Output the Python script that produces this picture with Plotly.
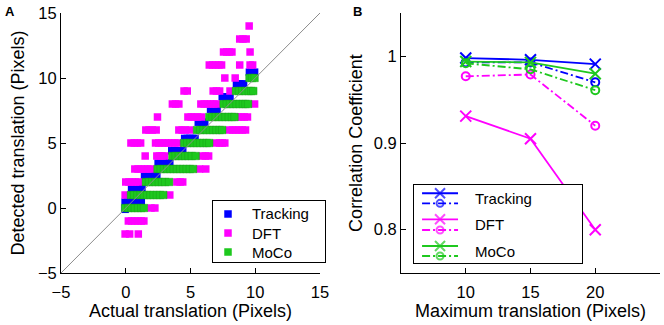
import plotly.graph_objects as go

# ---------------- Panel A data ----------------
trk_levels = [-0.1, 0.45, 1.5, 2.45, 3.45, 4.4, 5.35, 6.6, 7.6, 8.55, 9.55, 10.45]
trk_x = [
    [-0.05],
    [-0.05, 0.15, 0.35, 0.55, 0.75, 0.95, 1.2],
    [0.45, 0.65, 0.85, 1.05, 1.25],
    [1.45, 1.65, 1.85, 2.05, 2.25, 2.4],
    [2.5, 2.7, 2.9, 3.1, 3.3, 3.4],
    [3.55, 3.75, 3.95, 4.15, 4.4],
    [4.55, 4.75, 4.95, 5.15, 5.35],
    [5.6, 5.85, 6.1],
    [6.55, 6.8, 7.05],
    [7.45, 7.75, 8.05],
    [8.55, 8.8, 9.1],
    [9.55, 9.75, 9.95],
]

dft_levels = [14, 13, 12, 11, 10, 9, 8, 7, 6, 5, 4, 3, 2, 1, 0, -1, -2]
dft_x = [
    [9.53],
    [8.8, 9.05, 9.3],
    [7.55, 7.8, 8.0, 8.2, 9.6],
    [6.45, 6.7, 6.95, 7.2, 7.4, 8.8, 9.6, 9.8],
    [7.65, 8.45],
    [4.5, 4.75, 6.75, 7.0, 7.25, 8.05],
    [3.6, 3.85, 4.1, 5.8, 6.05, 6.3, 6.55, 6.8, 7.0, 9.95],
    [2.45, 4.8, 5.05, 5.3, 5.55, 5.85, 8.65, 8.9, 9.15, 9.4],
    [1.55, 1.8, 2.05, 2.35, 4.1, 4.35, 4.6, 4.95, 8.0, 8.25, 8.5, 8.75, 9.0, 9.25],
    [0.4, 0.65, 0.9, 1.15, 2.3, 2.55, 2.8, 3.05, 3.3, 3.55, 3.8, 4.05, 7.0, 7.25, 7.45, 7.65],
    [1.5, 2.4, 2.6, 2.8, 3.0, 5.9, 6.15, 6.4],
    [0.7, 0.95, 1.2, 1.45, 1.7, 1.95, 5.7, 6.18],
    [0.0, 0.25, 0.5, 0.75, 1.0, 3.95, 4.2, 4.4],
    [-0.05, 3.4],
    [1.95, 2.25],
    [0.2, 0.45, 0.7, 0.95, 1.2, 1.4],
    [-0.05, 0.3, 0.97],
]

moco_levels = [0, 1, 2, 3, 4, 5, 6, 7, 8, 9, 10]
moco_x = [
    [-0.05, 0.2, 0.45, 0.7, 0.95, 1.2, 1.4],
    [0.4, 0.65, 0.9, 1.15, 1.4, 1.65, 1.9, 2.15, 2.4, 2.65, 2.9],
    [1.55, 1.8, 2.05, 2.3, 2.55, 2.8, 3.05, 3.35],
    [2.45, 2.7, 2.95, 3.2, 3.45, 3.7, 3.95, 4.2, 4.45, 4.7, 4.95, 5.2],
    [3.6, 3.85, 4.1, 4.35, 4.6, 4.85, 5.1, 5.4],
    [4.5, 4.75, 5.0, 5.25, 5.5, 5.75, 6.0, 6.25, 6.45],
    [5.5, 5.75, 6.0, 6.25, 6.5, 6.75, 7.0, 7.25, 7.45],
    [6.45, 6.7, 6.95, 7.2, 7.45, 7.7, 7.95, 8.2, 8.4],
    [7.55, 7.8, 8.05, 8.3, 8.55, 8.8, 9.05, 9.25, 9.45],
    [8.5, 8.75, 9.0, 9.25, 9.5, 9.7, 9.85],
    [9.55, 9.75, 9.95],
]

axis_a_range = [-5, 15]
axis_a_ticks = [-5, 0, 5, 10, 15]

# ---------------- Panel B data ----------------
max_trans = [10, 15, 20]
trk_solid = [0.998, 0.996, 0.991]
trk_dash = [0.993, 0.993, 0.970]
dft_solid = [0.931, 0.905, 0.800]
dft_dash = [0.977, 0.979, 0.920]
moco_solid = [0.994, 0.993, 0.980]
moco_dash = [0.992, 0.985, 0.961]
b_yticks = [0.8, 0.9, 1.0]
b_yticktext = ["0.8", "0.9", "1"]
b_xticks = [10, 15, 20]

BLUE = "#0000ff"
MAG = "#ff00ff"
GREEN = "#1ec81e"
FONT = "Liberation Sans, Arial, Helvetica, sans-serif"
W, H = 664, 325
MS = 7.5
DASHDOT = "8px,3px,2px,3px"


def flatten(levels, xs):
    fx, fy = [], []
    for lv, row in zip(levels, xs):
        for v in row:
            fx.append(v)
            fy.append(lv)
    return fx, fy


def px_dom_x(a, b):
    return [a / W, b / W]


def px_dom_y(top, bottom):
    return [1 - bottom / H, 1 - top / H]


fig = go.Figure()

tx, ty = flatten(trk_levels, trk_x)
dx, dy = flatten(dft_levels, dft_x)
mx, my = flatten(moco_levels, moco_x)

fig.add_trace(go.Scatter(x=tx, y=ty, mode="markers", name="Tracking", xaxis="x", yaxis="y",
                         marker=dict(symbol="square", size=MS, color=BLUE, line=dict(width=0)),
                         showlegend=False))
fig.add_trace(go.Scatter(x=dx, y=dy, mode="markers", name="DFT", xaxis="x", yaxis="y",
                         marker=dict(symbol="square", size=MS, color=MAG, line=dict(width=0)),
                         showlegend=False))
fig.add_trace(go.Scatter(x=mx, y=my, mode="markers", name="MoCo", xaxis="x", yaxis="y",
                         marker=dict(symbol="square", size=MS, color=GREEN,
                                     line=dict(width=0.4, color="#169a16")),
                         showlegend=False))
fig.add_trace(go.Scatter(x=axis_a_range, y=axis_a_range, mode="lines", xaxis="x", yaxis="y",
                         line=dict(color="#8c8c8c", width=1), showlegend=False, hoverinfo="skip"))

# Panel B lines
series_b = [
    (trk_solid, BLUE, "solid", "x-thin-open", 11, "Tracking"),
    (trk_dash, BLUE, DASHDOT, "circle-open", 8, "Tracking"),
    (dft_solid, MAG, "solid", "x-thin-open", 11, "DFT"),
    (dft_dash, MAG, DASHDOT, "circle-open", 8, "DFT"),
    (moco_solid, GREEN, "solid", "x-thin-open", 11, "MoCo"),
    (moco_dash, GREEN, DASHDOT, "circle-open", 8, "MoCo"),
]
for vals, col, dash, sym, sz, nm in series_b:
    fig.add_trace(go.Scatter(x=max_trans, y=vals, mode="lines+markers", name=nm,
                             xaxis="x2", yaxis="y2", showlegend=False,
                             line=dict(color=col, width=1.8, dash=dash),
                             marker=dict(symbol=sym, size=sz, color=col,
                                         line=dict(color=col, width=2))))

# ---------- manual legend A (own unit frame) ----------
legA_names = ["Tracking", "DFT", "MoCo"]
legA_cols = [BLUE, MAG, GREEN]
legA_rows = [0.787, 0.475, 0.164]
legA_key_x = 0.134
legA_text_x = 0.33
for nm, col, ry in zip(legA_names, legA_cols, legA_rows):
    fig.add_trace(go.Scatter(x=[legA_key_x], y=[ry], mode="markers", xaxis="x3", yaxis="y3",
                             marker=dict(symbol="square", size=MS, color=col), showlegend=False,
                             hoverinfo="skip"))

# ---------- manual legend B ----------
legB_rows = [0.894, 0.765, 0.560, 0.423, 0.218, 0.090]
legB_text_rows = [0.833, 0.5, 0.145]
legB_line = [0.048, 0.155, 0.262]
legB_text_x = 0.35
for (vals, col, dash, sym, sz, nm), ry in zip(series_b, legB_rows):
    fig.add_trace(go.Scatter(x=legB_line, y=[ry, ry, ry], mode="lines+markers",
                             xaxis="x4", yaxis="y4", showlegend=False, hoverinfo="skip",
                             line=dict(color=col, width=1.8, dash=dash),
                             marker=dict(symbol=sym, size=[0, sz - 1, 0], color=col,
                                         line=dict(color=col, width=2))))

tickfont = dict(family=FONT, size=16.5, color="black")
titlefont = dict(family=FONT, size=18, color="black")

common = dict(showgrid=False, zeroline=False, showline=True, linecolor="black", linewidth=1,
              ticks="inside", ticklen=5, tickcolor="black", tickfont=tickfont, mirror=False,
              automargin=False)

legax = dict(showgrid=False, zeroline=False, showline=True, linecolor="black", linewidth=1,
             mirror=True, showticklabels=False, ticks="", range=[0, 1], fixedrange=True,
             automargin=False)

fig.update_layout(
    template="none",
    width=W, height=H,
    margin=dict(l=0, r=0, t=0, b=0, pad=0),
    paper_bgcolor="white", plot_bgcolor="white",
    font=dict(family=FONT, color="black"),
    showlegend=False,
    xaxis=dict(common, domain=px_dom_x(61, 320), range=axis_a_range, tickvals=axis_a_ticks,
               anchor="y", ticklabelstandoff=4,
               title=dict(text="Actual translation (Pixels)", font=titlefont, standoff=3)),
    yaxis=dict(common, domain=px_dom_y(13, 273), range=axis_a_range, tickvals=axis_a_ticks,
               anchor="x", title=dict(text="Detected translation (Pixels)", font=titlefont, standoff=8)),
    xaxis2=dict(common, domain=px_dom_x(401, 660), range=[5, 25], tickvals=b_xticks,
                anchor="y2", ticklabelstandoff=4,
                title=dict(text="Maximum translation (Pixels)", font=titlefont, standoff=3)),
    yaxis2=dict(common, domain=px_dom_y(13, 273), range=[0.75, 1.05], tickvals=b_yticks,
                ticktext=b_yticktext, anchor="x2",
                title=dict(text="Correlation Coefficient", font=titlefont, standoff=6)),
    xaxis3=dict(legax, domain=px_dom_x(213, 325), anchor="y3"),
    yaxis3=dict(legax, domain=px_dom_y(201, 262), anchor="x3"),
    xaxis4=dict(legax, domain=px_dom_x(414, 582), anchor="y4"),
    yaxis4=dict(legax, domain=px_dom_y(185, 263), anchor="x4"),
)

annos = []
for nm, ry in zip(legA_names, legA_rows):
    annos.append(dict(x=legA_text_x, y=ry, xref="x3", yref="y3", text=nm, showarrow=False,
                      xanchor="left", yanchor="middle", font=dict(family=FONT, size=15, color="black")))
for nm, ry in zip(legA_names, legB_text_rows):
    annos.append(dict(x=legB_text_x, y=ry, xref="x4", yref="y4", text=nm, showarrow=False,
                      xanchor="left", yanchor="middle", font=dict(family=FONT, size=15, color="black")))
annos.append(dict(x=3 / W, y=1 - 2 / H, xref="paper", yref="paper", text="<b>A</b>", showarrow=False,
                  xanchor="left", yanchor="top", font=dict(family=FONT, size=13, color="black")))
annos.append(dict(x=351 / W, y=1 - 2 / H, xref="paper", yref="paper", text="<b>B</b>", showarrow=False,
                  xanchor="left", yanchor="top", font=dict(family=FONT, size=13, color="black")))
fig.update_layout(annotations=annos)

fig.write_html("out.html", config={"displayModeBar": False, "staticPlot": True},
               post_script="document.body.style.margin='0px';document.body.style.padding='0px';")
